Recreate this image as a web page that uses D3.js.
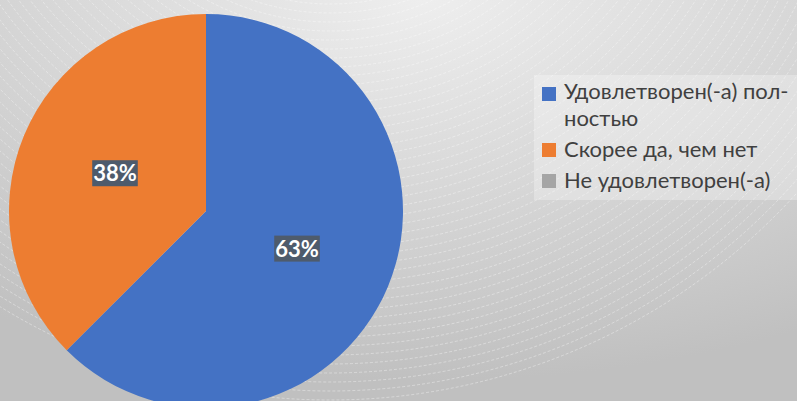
<!DOCTYPE html>
<html lang="ru">
<head>
<meta charset="UTF-8">
<title>Удовлетворенность</title>
<script src="https://d3js.org/d3.v7.min.js"></script>
<style>
  body { margin: 0; padding: 0; overflow: hidden; }
  svg { display: block; }
  .legend text { font-family: Lato, "Open Sans", sans-serif; font-size: 22px; fill: #404040; }
  .labels text { font-family: Lato, "Open Sans", sans-serif; font-size: 22px; font-weight: bold; fill: #fff; }
</style>
</head>
<body>
<svg width="797" height="401"></svg>
<script>
// данные
const categories = ["Удовлетворен(-а) полностью", "Скорее да, чем нет", "Не удовлетворен(-а)"];
const counts = [5, 3, 0];
const colors = ["#4472c4", "#ed7d31", "#a5a5a5"];
const legendLines = [["Удовлетворен(-а) пол-", "ностью"], ["Скорее да, чем нет"], ["Не удовлетворен(-а)"]];

const svg = d3.select("svg"),
    width = +svg.attr("width"),
    height = +svg.attr("height");

// фон: градиент + концентрические дуги
const defs = svg.append("defs");
const grad = defs.append("radialGradient").attr("id", "bg")
    .attr("cx", 0.53).attr("cy", 0).attr("r", 0.95);
grad.append("stop").attr("offset", 0).attr("stop-color", "#eeeeee");
grad.append("stop").attr("offset", 1).attr("stop-color", "#c0c0c0");
svg.append("rect").attr("width", width).attr("height", height).attr("fill", "url(#bg)");

const arcsG = svg.append("g")
    .attr("fill", "none").attr("stroke", "#fff")
    .attr("stroke-opacity", 0.45).attr("stroke-width", 0.8)
    .attr("stroke-dasharray", "3,2");
d3.range(180, 632, 9).forEach(r => {
    arcsG.append("circle").attr("cx", 330).attr("cy", -230).attr("r", r);
});

// пирог
const cx = 206, cy = 211, radius = 197;
const pie = d3.pie().sort(null).value(d => d);
const arc = d3.arc().innerRadius(0).outerRadius(radius);
const total = d3.sum(counts);
const fmt = d3.format(".0%");

const g = svg.append("g").attr("transform", `translate(${cx},${cy})`);
const slices = pie(counts);
g.selectAll("path").data(slices).enter().append("path")
    .attr("d", arc)
    .attr("fill", (d, i) => colors[i]);

const labels = g.append("g").attr("class", "labels")
    .selectAll("g").data(slices.filter(d => d.value > 0)).enter().append("g")
    .attr("transform", d => `translate(${arc.centroid(d)})`);
labels.append("rect").attr("fill", "#4e5b6c");
labels.append("text")
    .attr("text-anchor", "middle")
    .attr("dy", "0.36em")
    .text(d => fmt(d.value / total));
labels.each(function () {
    const t = d3.select(this).select("text").node().getBBox();
    d3.select(this).select("rect")
        .attr("x", t.x - 1).attr("y", t.y + 1)
        .attr("width", t.width + 2).attr("height", t.height - 1);
});

// легенда
const legend = svg.append("g").attr("class", "legend");
legend.append("rect")
    .attr("x", 534).attr("y", 75).attr("width", width - 534).attr("height", 125)
    .attr("fill", "#fff").attr("fill-opacity", 0.28);

const rowY = [99, 157, 188];
categories.forEach((c, i) => {
    const row = legend.append("g");
    row.append("rect")
        .attr("x", 542).attr("y", (i === 0 ? 101 : rowY[i]) - 14)
        .attr("width", 14).attr("height", 14)
        .attr("fill", colors[i]);
    legendLines[i].forEach((ln, j) => {
        row.append("text").attr("x", 564).attr("y", rowY[i] + j * 26.5).text(ln);
    });
});
</script>
</body>
</html>
